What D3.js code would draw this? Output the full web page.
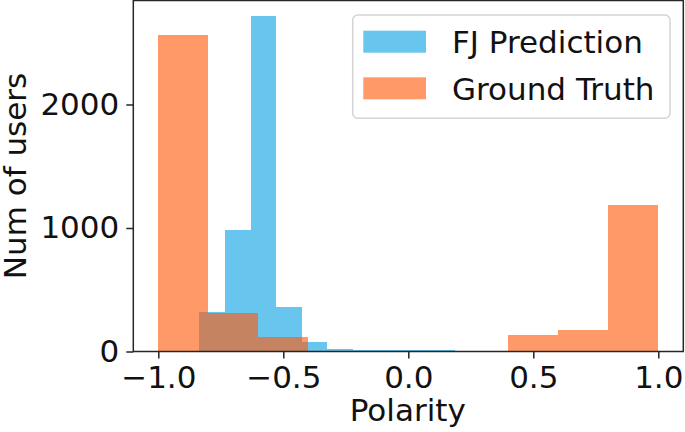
<!DOCTYPE html>
<html>
<head>
<meta charset="utf-8">
<script src="https://cdn.jsdelivr.net/npm/d3@7"></script>
<style>
  html, body { margin: 0; padding: 0; background: #fff; }
  svg { display: block; }
  text { font-family: "DejaVu Sans", sans-serif; fill: #111; }
</style>
</head>
<body>
<svg id="chart" width="685" height="432"></svg>
<script>
// ---- data ----
const blueLabel = "FJ Prediction";
const orangeLabel = "Ground Truth";
const blueEdges = [-0.836, -0.734, -0.631, -0.529, -0.427, -0.325, -0.222, -0.120, -0.018, 0.085, 0.187];
const blueCounts = [322, 986, 2715, 357, 79, 18, 15, 14, 15, 12];
const orangeEdges = [-1.0, -0.8, -0.6, -0.4, -0.2, 0.0, 0.2, 0.4, 0.6, 0.8, 1.0];
const orangeCounts = [2563, 309, 115, 0, 0, 0, 0, 134, 174, 1186];
const xTicks = [-1.0, -0.5, 0.0, 0.5, 1.0];
const xTickLabels = ["\u22121.0", "\u22120.5", "0.0", "0.5", "1.0"];
const yTicks = [0, 1000, 2000];
const yTickLabels = ["0", "1000", "2000"];
const xLabel = "Polarity";
const yLabel = "Num of users";

// ---- layout ----
const mLeft = 133.3, mRight = 683.3, mTop = 0.5, mBottom = 351.5;
const FS = 31;
const blueColor = "#67c5ee";
const orangeColor = "rgb(255,90,10)";
const orangeAlpha = 0.62;

const svg = d3.select("#chart");
const x = d3.scaleLinear().domain([-1.1, 1.1]).range([mLeft, mRight]);
const y = d3.scaleLinear().domain([0, 2842]).range([mBottom, mTop]);

function bins(edges, counts) {
  return counts.map((c, i) => ({ x0: edges[i], x1: edges[i + 1], c }));
}

svg.append("g").selectAll("rect").data(bins(blueEdges, blueCounts)).join("rect")
  .attr("x", d => x(d.x0)).attr("width", d => x(d.x1) - x(d.x0))
  .attr("y", d => y(d.c)).attr("height", d => y(0) - y(d.c))
  .attr("fill", blueColor).attr("shape-rendering", "crispEdges");

svg.append("g").selectAll("rect").data(bins(orangeEdges, orangeCounts).filter(d => d.c > 0)).join("rect")
  .attr("x", d => x(d.x0)).attr("width", d => x(d.x1) - x(d.x0))
  .attr("y", d => y(d.c)).attr("height", d => y(0) - y(d.c))
  .attr("fill", orangeColor).attr("fill-opacity", orangeAlpha).attr("shape-rendering", "crispEdges");

// spines
const spineColor = "#262626";
svg.append("rect").attr("x", mLeft).attr("y", mTop).attr("width", mRight - mLeft).attr("height", mBottom - mTop)
  .attr("fill", "none").attr("stroke", spineColor).attr("stroke-width", 1.5);

// axes
const xAxis = svg.append("g").attr("transform", `translate(0,${mBottom})`)
  .call(d3.axisBottom(x).tickValues(xTicks).tickFormat((d, i) => xTickLabels[i]).tickSize(7).tickPadding(7));
const yAxis = svg.append("g").attr("transform", `translate(${mLeft},0)`)
  .call(d3.axisLeft(y).tickValues(yTicks).tickFormat((d, i) => yTickLabels[i]).tickSize(7).tickPadding(7));
[xAxis, yAxis].forEach(g => {
  g.select(".domain").remove();
  g.selectAll(".tick line").attr("stroke", spineColor).attr("stroke-width", 1.5);
  g.selectAll(".tick text").attr("font-size", FS).attr("font-family", "DejaVu Sans").attr("fill", "#111");
});

// axis labels
svg.append("text").attr("x", (mLeft + mRight) / 2 - 0.5).attr("y", 421)
  .attr("text-anchor", "middle").attr("font-size", FS).text(xLabel);
svg.append("text").attr("transform", `translate(26,${(mTop + mBottom) / 2}) rotate(-90)`)
  .attr("text-anchor", "middle").attr("font-size", FS).text(yLabel);

// legend
const lg = svg.append("g");
lg.append("rect").attr("x", 352.7).attr("y", 15).attr("width", 317.3).attr("height", 103.3)
  .attr("rx", 5).attr("fill", "#fff").attr("fill-opacity", 0.8).attr("stroke", "#d4d4d4").attr("stroke-width", 1.5);
const items = [
  { label: blueLabel, color: blueColor, alpha: 1, py: 30.7, ty: 53.3 },
  { label: orangeLabel, color: orangeColor, alpha: orangeAlpha, py: 77.3, ty: 100 }
];
items.forEach(it => {
  lg.append("rect").attr("x", 363.3).attr("y", it.py).attr("width", 62.7).attr("height", 22)
    .attr("fill", it.color).attr("fill-opacity", it.alpha);
  lg.append("text").attr("x", 452).attr("y", it.ty).attr("font-size", FS).text(it.label);
});
</script>
</body>
</html>
